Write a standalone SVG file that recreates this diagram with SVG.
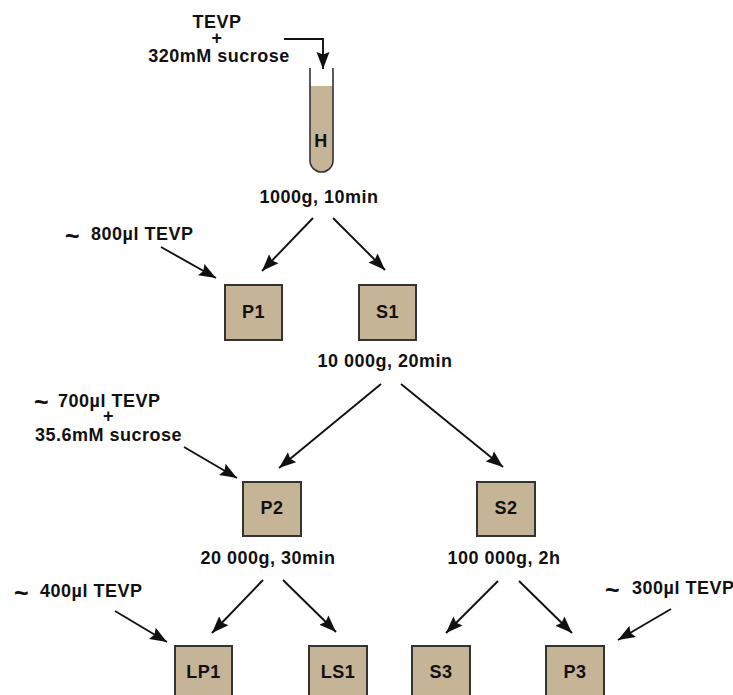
<svg xmlns="http://www.w3.org/2000/svg" width="733" height="695" viewBox="0 0 733 695">
<style>
text{font-family:"Liberation Sans",Arial,sans-serif;font-weight:700;font-size:18px;letter-spacing:.5px;fill:#111;text-anchor:middle}
.s{text-anchor:start}
.t{font-size:25px}
.b{fill:#c6b497;stroke:#333;stroke-width:2}
.c{fill:none;stroke:#111;stroke-width:1.900}
</style>
<defs><marker id="a" markerUnits="userSpaceOnUse" markerWidth="18" markerHeight="14" refX="17" refY="7" orient="auto"><path d="M0 .5L17 7L0 13.500L2.500 7Z" fill="#111"/></marker></defs>
<rect width="733" height="695" fill="#fff"/>
<g id="connectors">
<path class="c" d="M284 39H323V69" marker-end="url(#a)"/>
<path class="c" d="M313 218L262 271" marker-end="url(#a)"/>
<path class="c" d="M333 218L385 270" marker-end="url(#a)"/>
<path class="c" d="M161 247L216 278" marker-end="url(#a)"/>
<path class="c" d="M381 384L279 468" marker-end="url(#a)"/>
<path class="c" d="M401 384L503 467" marker-end="url(#a)"/>
<path class="c" d="M184 447L237 478" marker-end="url(#a)"/>
<path class="c" d="M263 580L212 633" marker-end="url(#a)"/>
<path class="c" d="M283 580L336 632" marker-end="url(#a)"/>
<path class="c" d="M115 611L167 642" marker-end="url(#a)"/>
<path class="c" d="M498 581L446 633" marker-end="url(#a)"/>
<path class="c" d="M519 581L572 633" marker-end="url(#a)"/>
<path class="c" d="M671 609L618 640" marker-end="url(#a)"/>
</g>
<g id="tube">
<path d="M310 86H333V160.500A11.500 11.500 0 0 1 310 160.500Z" fill="#c6b497"/>
<path d="M310 68V160.500A11.500 11.500 0 0 0 333 160.500V68" fill="none" stroke="#333" stroke-width="1.600"/>
<text x="321" y="147">H</text>
</g>
<g id="P1"><rect class="b" x="225" y="285" width="57" height="55"/><text x="253.500" y="318">P1</text></g>
<g id="S1"><rect class="b" x="359" y="285" width="57" height="55"/><text x="387.500" y="318">S1</text></g>
<g id="P2"><rect class="b" x="243" y="482" width="58" height="54"/><text x="272" y="514">P2</text></g>
<g id="S2"><rect class="b" x="477" y="482" width="58" height="54"/><text x="506" y="514">S2</text></g>
<g id="LP1"><rect class="b" x="175" y="646" width="57" height="60"/><text x="203.500" y="678">LP1</text></g>
<g id="LS1"><rect class="b" x="309" y="646" width="58" height="60"/><text x="338" y="678">LS1</text></g>
<g id="S3"><rect class="b" x="412" y="646" width="58" height="60"/><text x="441" y="678">S3</text></g>
<g id="P3"><rect class="b" x="546" y="646" width="58" height="60"/><text x="575" y="678">P3</text></g>
<g id="labels">
<text><tspan x="217" y="28">TEVP</tspan><tspan x="217" y="44">+</tspan><tspan x="219" y="62">320mM sucrose</tspan></text>
<text x="319" y="203">1000g, 10min</text>
<text x="385" y="367">10 000g, 20min</text>
<text x="268" y="564">20 000g, 30min</text>
<text x="504" y="564">100 000g, 2h</text>
<text class="s"><tspan class="t" x="65" y="245">~</tspan><tspan x="91" y="240">800µl TEVP</tspan></text>
<text class="s"><tspan class="t" x="34" y="411">~</tspan><tspan x="58" y="407">700µl TEVP</tspan><tspan x="103" y="422">+</tspan><tspan x="35" y="441">35.6mM sucrose</tspan></text>
<text class="s"><tspan class="t" x="14" y="602">~</tspan><tspan x="40" y="597">400µl TEVP</tspan></text>
<text class="s"><tspan class="t" x="605" y="599">~</tspan><tspan x="632" y="594">300µl TEVP</tspan></text>
</g>
</svg>
